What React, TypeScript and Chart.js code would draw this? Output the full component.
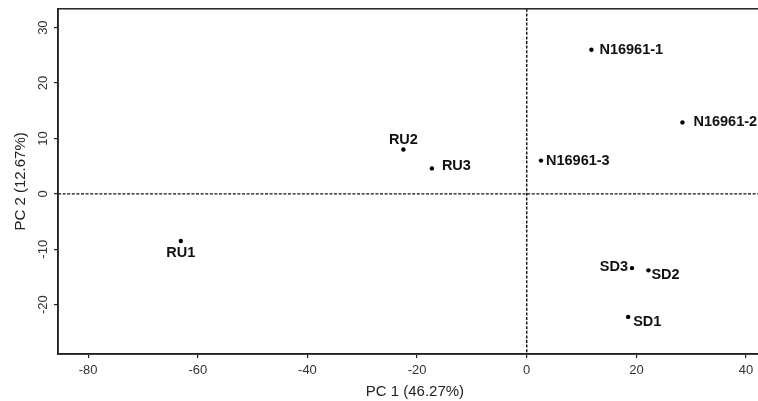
import React, { useEffect, useRef } from 'react';
import { Chart, registerables } from 'chart.js';

Chart.register(...registerables);

const sampleNames = ['RU1', 'RU2', 'RU3', 'N16961-1', 'N16961-2', 'N16961-3', 'SD1', 'SD2', 'SD3'];
const pc1Values = [-63.1, -22.5, -17.3, 11.8, 28.4, 2.6, 18.5, 22.2, 19.2];
const pc2Values = [-8.5, 8.0, 4.6, 26.0, 12.9, 6.0, -22.2, -13.8, -13.4];
const xTicks = [-80, -60, -40, -20, 0, 20, 40];
const yTicks = [-20, -10, 0, 10, 20, 30];
const xTitle = 'PC 1 (46.27%)';
const yTitle = 'PC 2 (12.67%)';

// label placement relative to its point (style, not data)
const labelPlacement: { dx: number; dy: number; align: CanvasTextAlign }[] = [
  { dx: 0, dy: 12, align: 'center' },
  { dx: 0, dy: -10, align: 'center' },
  { dx: 10, dy: -2, align: 'left' },
  { dx: 8, dy: 0, align: 'left' },
  { dx: 11, dy: 0, align: 'left' },
  { dx: 5, dy: 0, align: 'left' },
  { dx: 5, dy: 5, align: 'left' },
  { dx: 3, dy: 5, align: 'left' },
  { dx: -4, dy: -1, align: 'right' },
];

const FONT = "'Liberation Sans', Arial, Helvetica, sans-serif";

const overlayPlugin = {
  id: 'overlay',
  beforeDatasetsDraw(chart: any) {
    const { ctx, chartArea, scales } = chart;
    const x0 = scales.x.getPixelForValue(0);
    const y0 = scales.y.getPixelForValue(0);
    ctx.save();
    ctx.strokeStyle = '#111';
    ctx.lineWidth = 1.4;
    ctx.setLineDash([3, 1.6]);
    ctx.beginPath();
    ctx.moveTo(x0, chartArea.top);
    ctx.lineTo(x0, chartArea.bottom);
    ctx.moveTo(chartArea.left, y0);
    ctx.lineTo(chartArea.right, y0);
    ctx.stroke();
    ctx.setLineDash([]);
    ctx.lineWidth = 1.5;
    ctx.strokeStyle = '#222';
    ctx.strokeRect(chartArea.left, chartArea.top, chartArea.right - chartArea.left, chartArea.bottom - chartArea.top);
    ctx.restore();
  },
  afterDatasetsDraw(chart: any) {
    const { ctx } = chart;
    const meta = chart.getDatasetMeta(0);
    ctx.save();
    ctx.font = `bold 14.5px ${FONT}`;
    ctx.fillStyle = '#111';
    ctx.textBaseline = 'middle';
    meta.data.forEach((pt: any, i: number) => {
      const p = labelPlacement[i];
      ctx.textAlign = p.align;
      ctx.fillText(sampleNames[i], pt.x + p.dx, pt.y + p.dy);
    });
    ctx.restore();
  },
};

export default function App() {
  const ref = useRef<HTMLCanvasElement>(null);
  useEffect(() => {
    if (!ref.current) return;
    const chart = new Chart(ref.current, {
      type: 'scatter',
      data: {
        datasets: [
          {
            data: pc1Values.map((x, i) => ({ x, y: pc2Values[i] })),
            backgroundColor: '#000',
            borderColor: '#000',
            borderWidth: 0,
            pointRadius: 2.2,
            pointHoverRadius: 2.2,
          },
        ],
      },
      plugins: [overlayPlugin],
      options: {
        animation: false,
        responsive: false,
        layout: { padding: 0 },
        plugins: { legend: { display: false }, tooltip: { enabled: false } },
        scales: {
          x: {
            type: 'linear',
            min: -85.5,
            max: 44.7,
            afterBuildTicks: (s: any) => {
              s.ticks = xTicks.map((v) => ({ value: v }));
            },
            afterFit: (s: any) => {
              s.height = 47;
            },
            grid: { drawOnChartArea: false, drawTicks: true, tickLength: 4, color: '#222', lineWidth: 1.2 },
            border: { display: true, color: '#222', width: 1.5 },
            ticks: { font: { size: 13, family: FONT }, color: '#333', padding: 5, maxRotation: 0, autoSkip: false },
            title: { display: true, text: xTitle, font: { size: 15, family: FONT }, color: '#222', padding: { top: 0, bottom: 0 } },
          },
          y: {
            type: 'linear',
            min: -28.9,
            max: 33.4,
            afterBuildTicks: (s: any) => {
              s.ticks = yTicks.map((v) => ({ value: v }));
            },
            afterFit: (s: any) => {
              s.width = 58;
            },
            grid: { drawOnChartArea: false, drawTicks: true, tickLength: 4, color: '#222', lineWidth: 1.2 },
            border: { display: true, color: '#222', width: 1.5 },
            ticks: { font: { size: 13, family: FONT }, color: '#333', padding: 1, minRotation: 90, maxRotation: 90, crossAlign: 'center', autoSkip: false },
            title: { display: true, text: yTitle, font: { size: 15, family: FONT }, color: '#222', padding: { top: 12, bottom: 0 } },
          },
        },
      },
    } as any);
    return () => chart.destroy();
  }, []);
  return (
    <div style={{ position: 'fixed', left: 0, top: 0, width: 758, height: 401, overflow: 'hidden', background: '#fff' }}>
      <canvas ref={ref} width={774} height={401} style={{ display: 'block' }} />
    </div>
  );
}
